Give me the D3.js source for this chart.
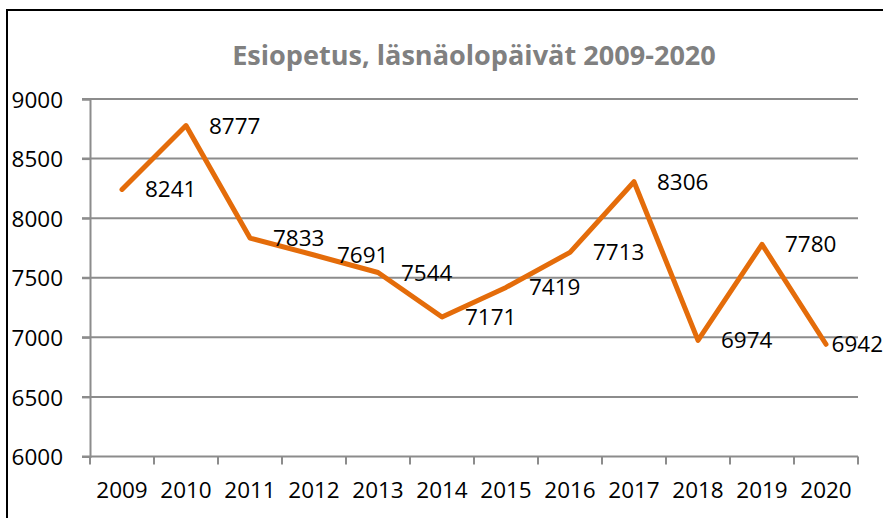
<!DOCTYPE html>
<html>
<head>
<meta charset="utf-8">
<script src="https://cdn.jsdelivr.net/npm/d3@7"></script>
<style>
  html, body { margin: 0; padding: 0; background: #fff; }
  svg { display: block; }
</style>
</head>
<body>
<svg id="chart" width="883" height="518"></svg>
<script>
const title = "Esiopetus, läsnäolopäivät 2009-2020";
const years = ["2009","2010","2011","2012","2013","2014","2015","2016","2017","2018","2019","2020"];
const values = [8241, 8777, 7833, 7691, 7544, 7171, 7419, 7713, 8306, 6974, 7780, 6942];
const yTicks = [6000, 6500, 7000, 7500, 8000, 8500, 9000];

const W = 883, H = 518;
const plot = { left: 90, right: 858, top: 99, bottom: 456.5 };
const FONT = "'Open Sans', 'Noto Sans', sans-serif";
const GRID = "#8c8c8c";
const ORANGE = "#e46c0a";

const svg = d3.select("#chart");

// outer chart frame (extends past right/bottom edge like the reference)
svg.append("rect")
  .attr("x", 7).attr("y", 10)
  .attr("width", W + 20).attr("height", H + 20)
  .attr("fill", "#fff").attr("stroke", "#000").attr("stroke-width", 2);

const x = d3.scaleBand().domain(years).range([plot.left, plot.right]);
const y = d3.scaleLinear().domain([6000, 9000]).range([plot.bottom, plot.top]);

// gridlines
svg.append("g").selectAll("line").data(yTicks.filter(d => d !== 6000)).join("line")
  .attr("x1", plot.left - 8).attr("x2", plot.right)
  .attr("y1", d => y(d)).attr("y2", d => y(d))
  .attr("stroke", GRID).attr("stroke-width", 2);

// y axis
const yAxis = svg.append("g")
  .attr("transform", `translate(${plot.left},0)`)
  .call(d3.axisLeft(y).tickValues(yTicks).tickSize(8).tickPadding(19).tickFormat(d3.format("d")));
yAxis.select(".domain").attr("stroke", GRID).attr("stroke-width", 2);
yAxis.selectAll(".tick line").attr("stroke", GRID).attr("stroke-width", 2);
yAxis.selectAll(".tick text")
  .attr("font-family", FONT).attr("font-size", 22.5).attr("fill", "#000")
  .attr("dy", "0.36em");

// x axis line with tick marks at category boundaries
const xg = svg.append("g").attr("transform", `translate(0,${plot.bottom})`);
xg.append("line").attr("x1", plot.left - 8).attr("x2", plot.right)
  .attr("stroke", GRID).attr("stroke-width", 2);
const bounds = years.map(d => x(d)).concat([plot.right]);
xg.selectAll("line.tk").data(bounds).join("line").attr("class", "tk")
  .attr("x1", d => d).attr("x2", d => d).attr("y1", 0).attr("y2", 8)
  .attr("stroke", GRID).attr("stroke-width", 2);
xg.selectAll("text").data(years).join("text")
  .attr("x", d => x(d) + x.bandwidth() / 2)
  .attr("y", 41.5)
  .attr("text-anchor", "middle")
  .attr("font-family", FONT).attr("font-size", 22.5).attr("fill", "#000")
  .text(d => d);

// line
const data = years.map((yr, i) => ({ yr, v: values[i] }));
const line = d3.line().x(d => x(d.yr) + x.bandwidth() / 2).y(d => y(d.v));
svg.append("path").datum(data)
  .attr("d", line)
  .attr("fill", "none").attr("stroke", ORANGE).attr("stroke-width", 5)
  .attr("stroke-linejoin", "round").attr("stroke-linecap", "round");

// data labels (to the right of each point, kept inside the frame)
svg.append("g").selectAll("text").data(data).join("text")
  .attr("font-family", FONT).attr("font-size", 22.5).attr("fill", "#000")
  .attr("y", d => y(d.v) + 8)
  .text(d => d.v)
  .each(function(d) {
    const w = this.getComputedTextLength();
    let tx = x(d.yr) + x.bandwidth() / 2 + 23;
    if (tx + w > W) tx = W - w;
    d3.select(this).attr("x", tx);
  });

// title
const t = svg.append("text")
  .attr("x", 474).attr("y", 65)
  .attr("text-anchor", "middle")
  .attr("font-family", FONT).attr("font-weight", "bold")
  .attr("font-size", 28).attr("fill", "#808080")
  .text(title);
const tw = t.node().getComputedTextLength();
t.attr("font-size", 28 * 484 / tw);
</script>
</body>
</html>
